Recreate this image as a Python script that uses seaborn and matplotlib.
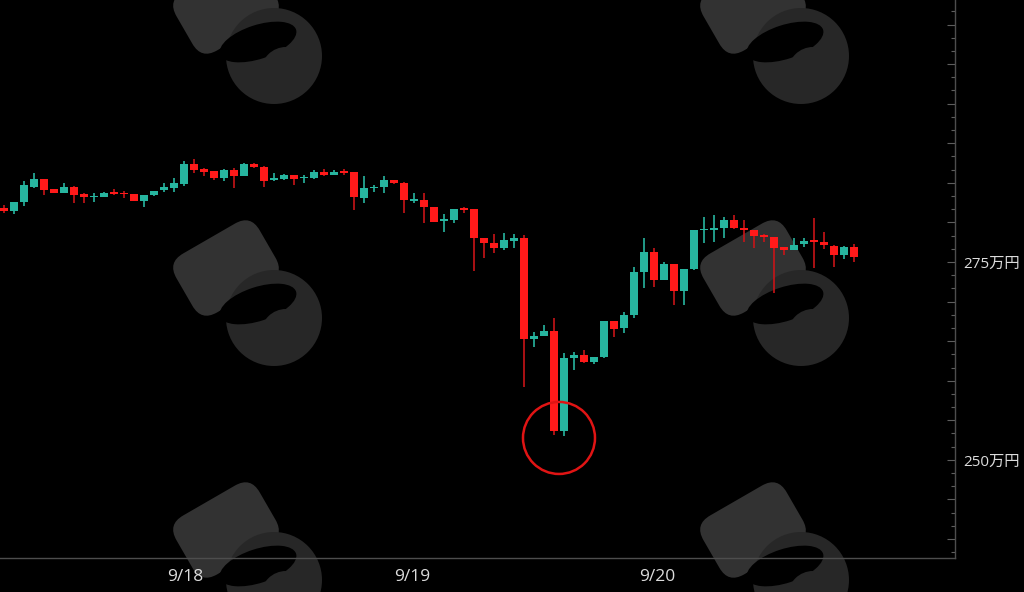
import numpy as np
import pandas as pd
import matplotlib
matplotlib.use('Agg')
import matplotlib.pyplot as plt
import seaborn as sns
from matplotlib.patches import Ellipse, Circle, FancyBboxPatch
from matplotlib.ticker import FixedLocator, MultipleLocator, FuncFormatter
from matplotlib.transforms import Affine2D

# hourly candles, prices in 万円
opens = [281.86, 281.48, 282.54, 284.51, 285.44, 284.18, 283.75, 284.51, 283.55, 283.17,
         283.25, 283.75, 283.75, 283.59, 282.74, 283.46, 284.05, 284.31, 284.81, 287.37,
         286.70, 286.49, 285.57, 286.62, 285.90, 287.34, 287.03, 285.32, 285.44, 285.98,
         285.57, 285.57, 286.40, 286.02, 286.33, 286.33, 283.04, 284.31, 284.43, 285.35,
         285.01, 282.74, 282.83, 281.98, 280.18, 280.30, 281.69, 281.65, 277.99, 277.36,
         276.73, 277.69, 277.99, 265.28, 265.66, 266.29, 253.66, 262.92, 263.26, 262.34,
         263.04, 267.55, 266.63, 268.31, 273.78, 276.30, 272.73, 274.71, 271.34, 274.08,
         279.00, 279.04, 279.26, 280.30, 279.26, 279.04, 278.41, 278.19, 276.89, 276.55,
         277.23, 277.78, 277.56, 277.06, 275.88, 276.93]
highs = [282.20, 282.61, 285.27, 286.20, 285.50, 284.20, 285.01, 284.55, 283.75, 283.67,
         283.88, 284.18, 284.00, 283.62, 283.52, 284.00, 284.94, 285.64, 287.75, 288.00,
         286.83, 286.52, 286.74, 286.83, 287.46, 287.46, 287.10, 286.20, 286.10, 286.00,
         285.98, 286.62, 286.70, 286.62, 286.70, 286.40, 285.86, 284.72, 285.86, 285.40,
         285.05, 283.67, 283.67, 282.00, 281.06, 281.72, 281.98, 281.70, 278.02, 278.50,
         278.62, 278.50, 278.41, 266.20, 267.05, 267.89, 263.47, 263.67, 263.89, 263.05,
         267.60, 267.60, 268.65, 274.41, 277.99, 276.73, 274.96, 274.80, 274.10, 279.10,
         280.72, 280.93, 280.72, 280.93, 280.30, 279.10, 278.50, 278.20, 276.90, 277.99,
         277.99, 280.59, 278.83, 277.10, 277.00, 277.23]
lows = [281.19, 281.06, 282.11, 284.40, 283.46, 283.70, 283.70, 282.41, 282.41, 282.61,
        283.20, 283.46, 283.04, 282.70, 281.91, 283.40, 283.80, 283.80, 284.63, 286.20,
        285.90, 285.35, 285.23, 284.38, 285.88, 286.90, 284.51, 285.23, 285.40, 284.72,
        284.94, 285.50, 285.90, 285.95, 285.98, 281.57, 282.41, 283.88, 283.67, 284.90,
        281.15, 282.41, 279.89, 280.00, 278.83, 279.89, 281.15, 273.86, 275.47, 276.10,
        276.52, 276.73, 259.26, 264.31, 265.60, 253.16, 253.07, 261.36, 262.30, 262.08,
        262.84, 265.57, 266.00, 267.97, 271.68, 271.88, 272.70, 269.57, 269.57, 274.00,
        277.36, 277.49, 277.99, 279.20, 277.56, 276.73, 277.56, 271.05, 275.88, 276.50,
        276.90, 274.20, 276.64, 274.41, 275.38, 275.04]
closes = [281.48, 282.61, 284.72, 285.44, 284.09, 283.75, 284.51, 283.46, 283.17, 283.33,
          283.75, 283.59, 283.55, 282.74, 283.50, 283.96, 284.43, 285.01, 287.37, 286.62,
          286.40, 285.57, 286.62, 285.90, 287.34, 287.03, 285.23, 285.57, 285.98, 285.44,
          285.69, 286.40, 285.98, 286.33, 286.24, 283.17, 284.31, 284.51, 285.35, 284.94,
          282.83, 282.92, 281.91, 280.09, 280.39, 281.69, 281.57, 277.99, 277.36, 276.73,
          277.78, 277.99, 265.24, 265.66, 266.29, 253.66, 262.92, 263.26, 262.34, 263.04,
          267.55, 266.50, 268.31, 273.78, 276.30, 272.73, 274.71, 271.34, 274.08, 279.04,
          279.17, 279.17, 280.30, 279.26, 279.04, 278.32, 278.12, 276.81, 276.55, 277.15,
          277.65, 277.56, 277.15, 275.88, 276.93, 275.67]

day_ticks = [18.1, 40.8, 65.3]
day_labels = ['9/18', '9/19', '9/20']
price_labels = [250, 275]

UP = '#27b59f'
DOWN = '#ff1a1a'
DOWN_WICK = '#c81418'

df = pd.DataFrame({'open': opens, 'high': highs, 'low': lows, 'close': closes})
df['x'] = np.arange(len(df))
df['up'] = df['close'] >= df['open']

sns.set_theme(style='dark', rc={'axes.facecolor': 'black', 'figure.facecolor': 'black'})
plt.rcParams['font.family'] = ['Open Sans', 'Noto Sans CJK JP', 'DejaVu Sans']

fig = plt.figure(figsize=(10.24, 5.92), dpi=100, facecolor='black')

# --- background watermark logos (pixel space) ---
bg = fig.add_axes([0, 0, 1, 1], zorder=0)
bg.set_xlim(0, 1024)
bg.set_ylim(592, 0)
bg.axis('off')
for dx in (0, 527):
    for dy in (-262, 0, 262):
        cx, cy = 226 + dx, 268 + dy
        box = FancyBboxPatch((cx - 48, cy - 34), 96, 68,
                             boxstyle='round,pad=0,rounding_size=18',
                             fc='#323232', ec='none')
        box.set_transform(Affine2D().rotate_deg_around(cx, cy, -30) + bg.transData)
        bg.add_patch(box)
        bg.add_patch(Circle((274 + dx, 318 + dy), 48, fc='#272727', ec='none'))
        bird = Ellipse((258 + dx, 304 + dy), 80, 34, angle=-18, fc='black', ec='none')
        bg.add_patch(bird)
        bg.add_patch(Circle((286 + dx, 334 + dy), 25, fc='#272727', ec='none'))

# --- candles ---
ax = fig.add_axes([0, 0.0574, 0.9326, 0.9426], zorder=1)
ax.patch.set_alpha(0)

up = df[df['up']]
dn = df[~df['up']]
ax.vlines(up['x'], up['low'], up['high'], color=UP, lw=1.2, zorder=2)
ax.vlines(dn['x'], dn['low'], dn['high'], color=DOWN_WICK, lw=1.2, zorder=2)
body = (df['close'] - df['open']).abs().clip(lower=0.22)
bottom = df[['open', 'close']].min(axis=1)
ax.bar(df['x'], body, bottom=bottom, width=0.72,
       color=np.where(df['up'], UP, DOWN), edgecolor='none', linewidth=0, zorder=3)

# highlight the low
low_idx = df['low'].nsmallest(2).index
ax.add_patch(Ellipse((low_idx.values.mean(), df['low'].min() - 0.3), 7.2, 9.1,
                     fill=False, ec='#e01414', lw=1.8, zorder=4))

ax.set_xlim(-0.4, 95.1)
ax.set_ylim(237.6, 308.1)

for s in ('left', 'top'):
    ax.spines[s].set_visible(False)
for s in ('right', 'bottom'):
    ax.spines[s].set_visible(True)
    ax.spines[s].set_color('#4d4d4d')
    ax.spines[s].set_linewidth(1.0)

ax.yaxis.tick_right()
ax.yaxis.set_major_locator(FixedLocator(list(range(240, 310, 5))))
ax.yaxis.set_minor_locator(MultipleLocator(5 / 3))
ax.yaxis.set_major_formatter(FuncFormatter(
    lambda v, p: f'{int(round(v))}万円' if int(round(v)) in price_labels else ''))
ax.xaxis.set_major_locator(FixedLocator(day_ticks))
ax.xaxis.set_major_formatter(FuncFormatter(lambda v, p: day_labels[p] if p is not None and p < len(day_labels) else ''))
ax.xaxis.set_minor_locator(MultipleLocator(1))

ax.tick_params(axis='both', which='both', direction='in', color='#5e5e5e',
               labelcolor='#dcdcdc')
ax.tick_params(axis='y', which='major', length=6, width=0.8, pad=6, labelsize=11,
               left=False, right=True, labelleft=False, labelright=True)
ax.tick_params(axis='y', which='minor', length=3, width=0.8, left=False, right=True)
ax.tick_params(axis='x', which='major', length=6, width=0.8, pad=8, labelsize=12.5)
ax.tick_params(axis='x', which='minor', length=3, width=0.8)
ax.grid(False)

fig.savefig('out.png', dpi=100, facecolor='black')
